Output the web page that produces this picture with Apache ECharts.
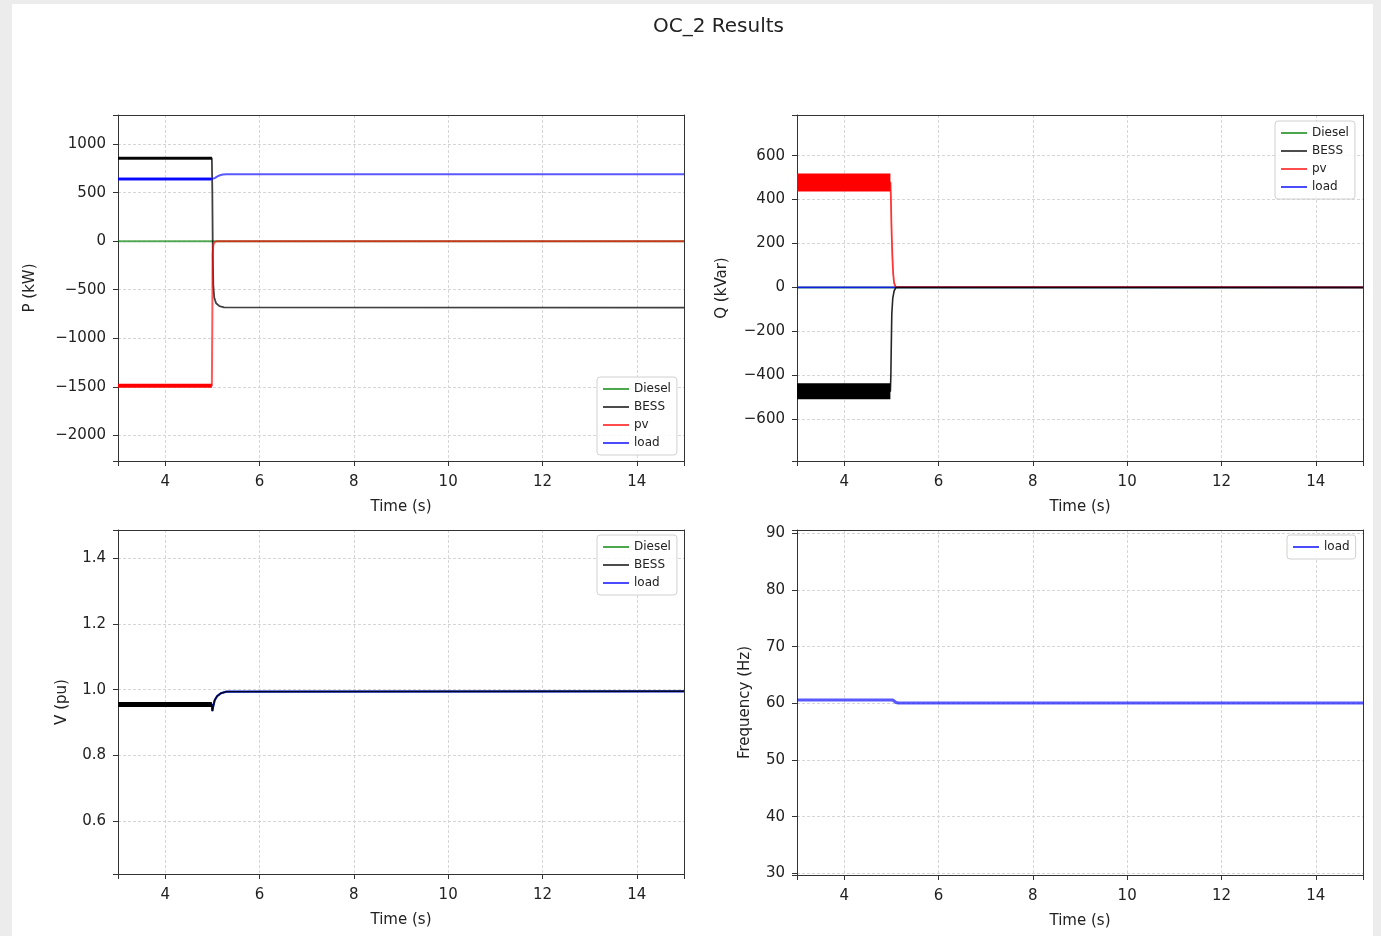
<!DOCTYPE html>
<html>
<head>
<meta charset="utf-8">
<title>OC_2 Results</title>
<script src="https://cdn.jsdelivr.net/npm/echarts@6/dist/echarts.min.js"></script>
<style>
  html, body { margin: 0; padding: 0; background: #ececec; }
  #paper { position: absolute; left: 12px; top: 4px; width: 1361px; height: 932px; background: #fff; }
  #chart { position: absolute; left: 0; top: 0; width: 1381px; height: 936px; filter: blur(0.5px); }
</style>
</head>
<body>
<div id="paper"></div>
<div id="chart"></div>
<script>
// values, [time (s), value]
var pDiesel = [[3, 0], [15, 0]];
var pBess = [[3, 855], [4.99, 855], [5.0, 500], [5.01, -150], [5.02, -450], [5.04, -580], [5.08, -640], [5.15, -670], [5.25, -682], [15, -685]];
var pPv = [[3, -1490], [4.99, -1490], [5.0, -800], [5.005, -150], [5.02, -40], [5.05, -10], [5.1, 0], [15, 0]];
var pLoad = [[3, 640], [4.98, 640], [5.05, 650], [5.1, 665], [5.15, 677], [5.22, 686], [5.3, 690], [15, 690]];

var qDiesel = [[3, 0], [15, 0]];
var qBess = [[3, -472], [4.98, -472], [4.99, -400], [5.0, -250], [5.01, -120], [5.03, -50], [5.06, -15], [5.1, 0], [15, 0]];
var qPv = [[3, 478], [4.98, 478], [4.99, 420], [5.0, 300], [5.02, 150], [5.04, 60], [5.06, 20], [5.09, 3], [5.12, 0], [15, 0]];
var qLoad = [[3, 0], [15, 0]];

var vDiesel = [[3, 0.955], [4.99, 0.955], [5.0, 0.935], [5.02, 0.95], [5.05, 0.968], [5.1, 0.98], [5.18, 0.989], [5.3, 0.994], [15, 0.995]];
var vBess = [[3, 0.955], [4.99, 0.955], [5.0, 0.935], [5.02, 0.95], [5.05, 0.968], [5.1, 0.98], [5.18, 0.989], [5.3, 0.994], [15, 0.995]];
var vLoad = [[3, 0.955], [4.99, 0.955], [5.0, 0.935], [5.02, 0.95], [5.05, 0.968], [5.1, 0.98], [5.18, 0.989], [5.3, 0.994], [15, 0.995]];

var fLoad = [[3, 60.6], [5.03, 60.6], [5.07, 60.35], [5.1, 60.15], [5.15, 60.05], [15, 60.05]];

// tick labels
var timeTicks = [4, 6, 8, 10, 12, 14];
var pTicks = [-2000, -1500, -1000, -500, 0, 500, 1000];
var qTicks = [-600, -400, -200, 0, 200, 400, 600];
var vTicks = [0.6, 0.8, 1.0, 1.2, 1.4];
var fTicks = [30, 40, 50, 60, 70, 80, 90];

var FONT = "DejaVu Sans";
var GREEN = "#008000", BLACK = "#000000", RED = "#ff0000", BLUE = "#0000ff";

var chart = echarts.init(document.getElementById("chart"));

// the noisy stretch before the switch is drawn as a thick band
function upTo(data, t) {
  return data.filter(function (p) { return p[0] <= t; });
}

function fmt(step, digits) {
  return function (v) {
    var k = v / step;
    if (Math.abs(k - Math.round(k)) > 1e-6) return "";
    var s = digits ? v.toFixed(digits) : String(Math.round(v));
    return s.replace("-", "\u2212");
  };
}

var grids = [
  { left: 118, top: 115, width: 566, height: 346 },
  { left: 797, top: 115, width: 566, height: 346 },
  { left: 118, top: 530, width: 566, height: 344 },
  { left: 797, top: 530, width: 566, height: 345 }
];

var gridLine = { show: true, lineStyle: { color: "#d6d6d6", type: [3, 2] } };

function xAxisFor(i) {
  return {
    type: "value", gridIndex: i, min: 3, max: 15, splitNumber: 6,
    name: "Time (s)", nameLocation: "middle", nameGap: 39,
    nameTextStyle: { color: "#222", fontSize: 15, fontFamily: FONT },
    axisLine: { show: true, onZero: false, lineStyle: { color: "#333" } },
    axisTick: { show: true, length: 5, lineStyle: { color: "#333" } },
    axisLabel: { color: "#222", fontSize: 15, fontFamily: FONT, margin: 14, customValues: timeTicks, formatter: fmt(2, 0) },
    splitLine: gridLine
  };
}

function yAxisFor(i, name, min, max, split, ticks, step, digits, gap) {
  return {
    type: "value", gridIndex: i, min: min, max: max, splitNumber: split,
    name: name, nameLocation: "middle", nameGap: gap,
    nameTextStyle: { color: "#222", fontSize: 15, fontFamily: FONT },
    axisLine: { show: true, onZero: false, lineStyle: { color: "#333" } },
    axisTick: { show: true, length: 5, lineStyle: { color: "#333" } },
    axisLabel: { color: "#222", fontSize: 15, fontFamily: FONT, margin: 12, customValues: ticks, formatter: fmt(step, digits) },
    splitLine: gridLine
  };
}

// plain spines for the top and right sides
function frameX(i) {
  return {
    type: "value", gridIndex: i, position: "top", min: 3, max: 15,
    axisLine: { show: true, onZero: false, lineStyle: { color: "#333" } },
    axisTick: { show: false }, axisLabel: { show: false }, splitLine: { show: false }
  };
}
function frameY(i) {
  return {
    type: "value", gridIndex: i, position: "right", min: 0, max: 1,
    axisLine: { show: true, onZero: false, lineStyle: { color: "#333" } },
    axisTick: { show: false }, axisLabel: { show: false }, splitLine: { show: false }
  };
}

function legendAt(left, top, names) {
  return {
    orient: "vertical", left: left, top: top, data: names,
    icon: "rect", itemWidth: 26, itemHeight: 2, itemGap: 4, padding: [5, 6],
    itemStyle: { opacity: 0.7 },
    backgroundColor: "rgba(255,255,255,0.85)", borderColor: "#d0d0d0", borderWidth: 1, borderRadius: 3,
    textStyle: { fontFamily: FONT, fontSize: 12, lineHeight: 14, color: "#222" },
    selectedMode: false, z: 10
  };
}

function line(name, data, g, color, z, width, opacity) {
  return {
    type: "line", name: name, data: data, xAxisIndex: g, yAxisIndex: g,
    symbol: "none", showSymbol: false, color: color, z: z,
    itemStyle: { color: color },
    lineStyle: { color: color, width: width || 2, opacity: opacity == null ? 0.65 : opacity },
    animation: false, silent: true
  };
}

var series = [
  // P
  line("Diesel", pDiesel, 0, GREEN, 2),
  line("BESS", pBess, 0, BLACK, 3, 1.8, 0.75),
  line("BESS", upTo(pBess, 4.99), 0, BLACK, 3, 3, 0.95),
  line("pv", pPv, 0, RED, 4),
  line("pv", upTo(pPv, 4.99), 0, RED, 4, 4, 1),
  line("load", pLoad, 0, BLUE, 5),
  line("load", upTo(pLoad, 4.98), 0, BLUE, 5, 3, 0.9),
  // Q
  line("Diesel", qDiesel, 1, GREEN, 2),
  line("load", qLoad, 1, BLUE, 3, 1.8, 0.8),
  line("pv", qPv, 1, RED, 4, 1.8, 0.8),
  line("pv", upTo(qPv, 4.98), 1, RED, 4, 18, 1),
  line("BESS", qBess, 1, BLACK, 5, 1.6, 0.85),
  line("BESS", upTo(qBess, 4.98), 1, BLACK, 5, 16, 1),
  // V
  line("Diesel", vDiesel, 2, GREEN, 2),
  line("load", vLoad, 2, BLUE, 3, 2.2, 0.8),
  line("BESS", vBess, 2, BLACK, 4, 1.4, 0.85),
  line("BESS", upTo(vBess, 4.99), 2, BLACK, 4, 5, 1),
  // f
  line("load", fLoad, 3, BLUE, 3, 3, 0.65)
];

var option = {
  title: {
    text: "OC_2 Results", left: 653, top: 17, padding: 0,
    textStyle: { fontFamily: FONT, fontSize: 20, fontWeight: "normal", color: "#222" }
  },
  grid: grids,
  xAxis: [xAxisFor(0), xAxisFor(1), xAxisFor(2), xAxisFor(3), frameX(0), frameX(1), frameX(2), frameX(3)],
  yAxis: [
    yAxisFor(0, "P (kW)", -2265, 1300, 7, pTicks, 500, 0, 80),
    yAxisFor(1, "Q (kVar)", -790, 785, 8, qTicks, 200, 0, 67),
    yAxisFor(2, "V (pu)", 0.44, 1.485, 5, vTicks, 0.2, 1, 48),
    yAxisFor(3, "Frequency (Hz)", 29.7, 90.6, 6, fTicks, 10, 0, 44),
    frameY(0), frameY(1), frameY(2), frameY(3)
  ],
  legend: [
    legendAt(597, 377, ["Diesel", "BESS", "pv", "load"]),
    legendAt(1275, 121, ["Diesel", "BESS", "pv", "load"]),
    legendAt(597, 535, ["Diesel", "BESS", "load"]),
    legendAt(1287, 535, ["load"])
  ],
  series: series
};

chart.setOption(option);
</script>
</body>
</html>
